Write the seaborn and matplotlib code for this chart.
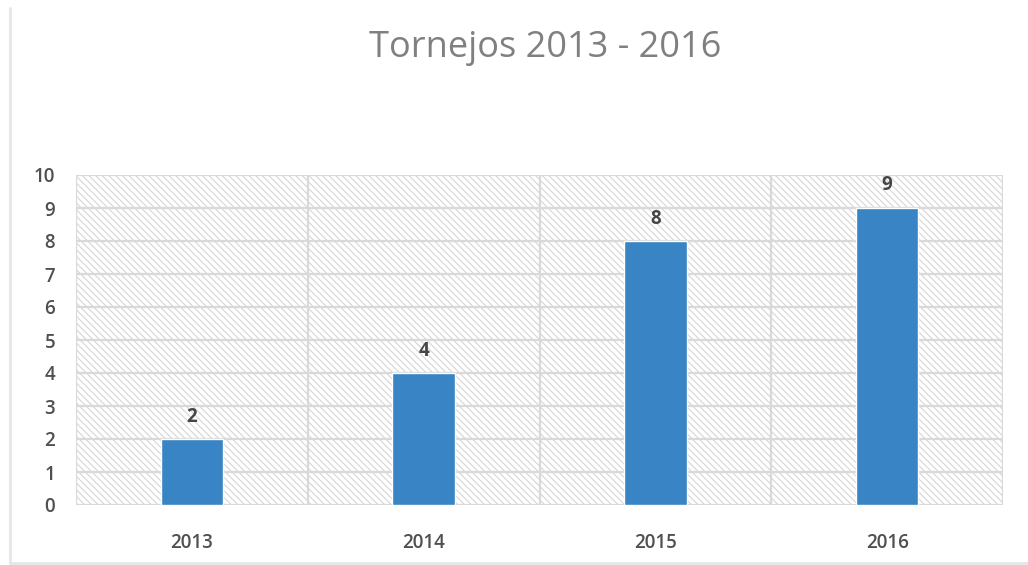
import matplotlib
matplotlib.use("Agg")
import matplotlib.pyplot as plt
from matplotlib.patches import Rectangle
import seaborn as sns
import pandas as pd

# Chart data
years = ["2013", "2014", "2015", "2016"]
tournaments = [2, 4, 8, 9]
title = "Tornejos 2013 - 2016"

df = pd.DataFrame({"year": years, "count": tournaments})

sns.set_theme(style="white")
plt.rcParams["font.family"] = ["Open Sans", "DejaVu Sans"]
plt.rcParams["hatch.linewidth"] = 0.9

fig = plt.figure(figsize=(10.28, 5.65), dpi=100, facecolor="white")
ax = fig.add_axes([76 / 1028, 1 - 505 / 565, (1003 - 76) / 1028, (505 - 175) / 565])
ax.set_facecolor("white")

# Hatched plot-area background
bg = Rectangle((0, 0), 1, 1, transform=ax.transAxes, facecolor="white",
               edgecolor="#d9d9d9", hatch="\\" * 5, linewidth=0, zorder=0)
ax.add_patch(bg)

sns.barplot(data=df, x="year", y="count", color="#3884c4", width=0.27,
            saturation=1, ax=ax, zorder=3)

ax.set_xlim(-0.5, len(years) - 0.5)
ax.set_ylim(0, 10)
ax.set_yticks(range(0, 11))
ax.set_xticks([i - 0.5 for i in range(len(years) + 1)], minor=True)

ax.grid(axis="y", which="major", color="#d9d9d9", linewidth=1.6, zorder=1)
ax.grid(axis="x", which="minor", color="#d9d9d9", linewidth=1.6, zorder=1)
ax.grid(axis="x", which="major", visible=False)
ax.set_axisbelow(True)

for s in ax.spines.values():
    s.set_visible(False)

ax.tick_params(axis="y", which="both", length=0, pad=15, labelsize=13.5,
               labelcolor="#505050")
ax.tick_params(axis="x", which="both", length=0, pad=20, labelsize=13.5,
               labelcolor="#505050")
for lbl in ax.get_yticklabels() + ax.get_xticklabels():
    lbl.set_fontweight("semibold")

ax.set_xlabel("")
ax.set_ylabel("")

for cont in ax.containers:
    ax.bar_label(cont, labels=[str(v) for v in tournaments], padding=9,
                 fontsize=13.5, fontweight="bold", color="#454545")

fig.text(545 / 1028, 1 - 48 / 565, title, ha="center", va="center",
         fontsize=26, color="#808080")

# Outer chart frame (left and bottom edges)
fig.add_artist(plt.Line2D([10 / 1028, 10 / 1028], [1 - 8 / 565, 1 - 563 / 565],
                          transform=fig.transFigure, color="#e6e6e6", linewidth=2))
fig.add_artist(plt.Line2D([10 / 1028, 1.0], [1 - 563 / 565, 1 - 563 / 565],
                          transform=fig.transFigure, color="#e6e6e6", linewidth=2))

fig.savefig("out.png", dpi=100, facecolor="white")
